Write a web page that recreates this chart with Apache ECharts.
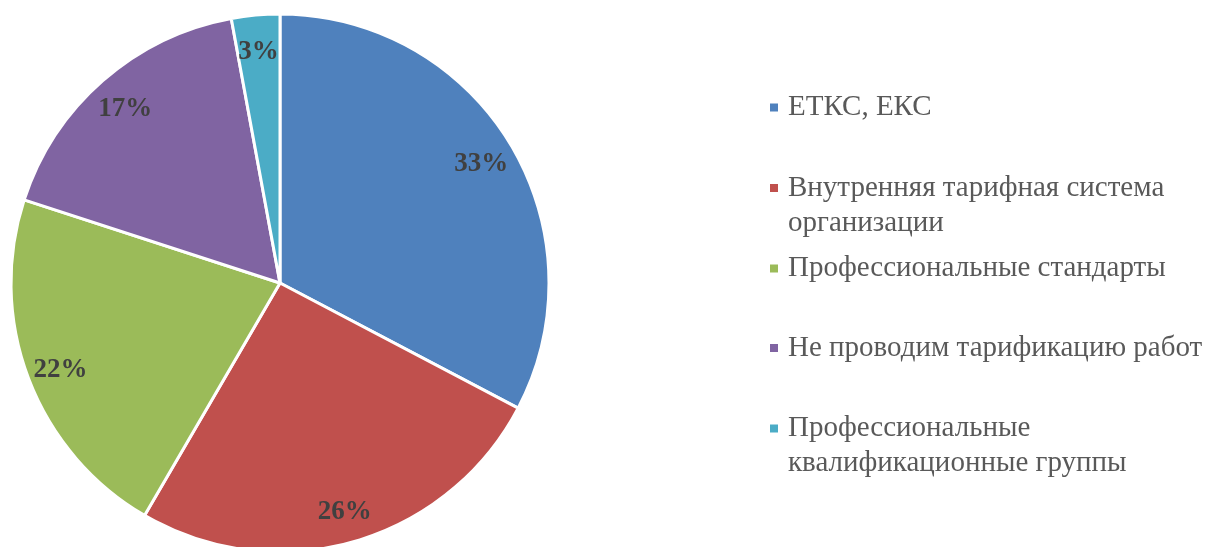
<!DOCTYPE html>
<html>
<head>
<meta charset="utf-8">
<style>
html,body{margin:0;padding:0;background:#fff;}
#chart{width:1211px;height:547px;}
</style>
<script src="https://cdn.jsdelivr.net/npm/echarts@6/dist/echarts.min.js"></script>
</head>
<body>
<div id="chart"></div>
<script>
var categories = [
  'ЕТКС, ЕКС',
  'Внутренняя тарифная система организации',
  'Профессиональные стандарты',
  'Не проводим тарификацию работ',
  'Профессиональные квалификационные группы'
];
var legendLabels = [
  'ЕТКС, ЕКС',
  'Внутренняя тарифная система\nорганизации',
  'Профессиональные стандарты',
  'Не проводим тарификацию работ',
  'Профессиональные\nквалификационные группы'
];
var values = [32.7, 25.7, 21.6, 17.1, 2.9];
var colors = ['#4F81BD', '#C0504D', '#9BBB59', '#8064A2', '#4BACC6'];

var data = categories.map(function (c, i) {
  return { name: c, value: values[i], itemStyle: { color: colors[i] } };
});

var legendTops = [90, 135.5, 251, 330.5, 376];
var legends = categories.map(function (c, i) {
  return {
    show: true,
    orient: 'vertical',
    left: 768,
    top: legendTops[i],
    padding: 0,
    data: [c],
    icon: 'rect',
    itemWidth: 10,
    itemHeight: 10,
    selectedMode: false,
    formatter: function () {
      var t = legendLabels[i];
      return t.indexOf('\n') >= 0 ? '\n' + t : t;
    },
    textStyle: {
      fontFamily: '"Liberation Serif", "Times New Roman", serif',
      fontSize: 29,
      lineHeight: 35,
      color: '#595959',
      padding: [0, 0, 0, 4]
    }
  };
});

var chart = echarts.init(document.getElementById('chart'), null, { renderer: 'canvas' });
chart.setOption({
  animation: false,
  backgroundColor: '#ffffff',
  legend: legends,
  series: [
    {
      type: 'pie',
      center: [280, 283],
      radius: [0, 269],
      startAngle: 90,
      clockwise: true,
      data: data,
      label: { show: false },
      labelLine: { show: false },
      itemStyle: { borderColor: '#ffffff', borderWidth: 3 },
      emphasis: { disabled: true }
    },
    {
      type: 'pie',
      center: [280, 286],
      radius: [195, 269],
      startAngle: 90,
      clockwise: true,
      silent: true,
      legendHoverLink: false,
      data: data.map(function (d) { return { name: d.name, value: d.value, itemStyle: { color: 'rgba(0,0,0,0)' } }; }),
      itemStyle: { borderWidth: 0 },
      label: {
        show: true,
        position: 'inside',
        formatter: function (p) { return Math.round(p.percent) + '%'; },
        fontFamily: '"Liberation Serif", "Times New Roman", serif',
        fontWeight: 'bold',
        fontSize: 27,
        color: '#404040'
      },
      labelLine: { show: false },
      emphasis: { disabled: true }
    }
  ]
});
</script>
</body>
</html>
